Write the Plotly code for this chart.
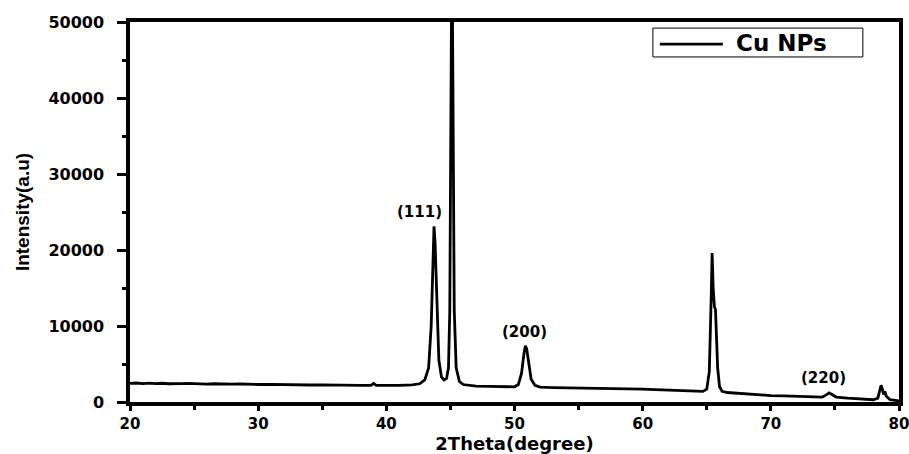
import plotly.graph_objects as go

two_theta = [20.0, 20.5, 21.0, 21.5, 22.0, 22.5, 23.0, 23.5, 24.0, 24.5, 25.0, 25.5, 26.0, 26.5,
             27.0, 27.5, 28.0, 28.5, 29.0, 29.5, 30.0, 31.0, 32.0, 33.0, 34.0, 35.0, 36.0, 37.0,
             38.0, 38.8, 39.0, 39.2, 40.0, 41.0, 42.0, 42.6, 43.0, 43.3, 43.5, 43.65, 43.72, 43.8,
             43.95, 44.1, 44.3, 44.5, 44.7, 44.85, 44.95, 45.05, 45.12, 45.2, 45.3, 45.45, 45.7,
             46.0, 46.5, 47.0, 48.0, 49.0, 50.0, 50.3, 50.55, 50.75, 50.85, 50.95, 51.1, 51.3, 51.6,
             52.0, 53.0, 54.0, 55.0, 56.0, 57.0, 58.0, 59.0, 60.0, 61.0, 62.0, 63.0, 64.0, 64.7,
             65.0, 65.2, 65.35, 65.42, 65.5, 65.6, 65.68, 65.75, 65.85, 66.0, 66.2, 66.6, 67.0,
             68.0, 69.0, 70.0, 71.0, 72.0, 73.0, 74.0, 74.3, 74.55, 74.8, 75.1, 76.0, 77.0, 78.0,
             78.35, 78.5, 78.6, 78.7, 78.8, 78.9, 79.0, 79.3, 80.0]
intensity = [2450, 2500, 2430, 2480, 2420, 2470, 2400, 2450, 2410, 2440, 2380, 2420, 2360, 2400,
             2350, 2390, 2340, 2370, 2320, 2350, 2300, 2320, 2270, 2290, 2240, 2260, 2210, 2230,
             2190, 2200, 2450, 2200, 2180, 2200, 2250, 2400, 2900, 4500, 10000, 20000, 23100, 21000,
             12000, 5500, 3300, 2900, 3100, 4500, 12000, 40000, 62000, 40000, 12000, 4500, 2700,
             2300, 2150, 2100, 2050, 2000, 2000, 2300, 3800, 6500, 7400, 7000, 5000, 3000, 2200,
             1950, 1900, 1880, 1850, 1820, 1790, 1750, 1720, 1700, 1640, 1580, 1500, 1420, 1400,
             1700, 4000, 14000, 19600, 15000, 12500, 12200, 9000, 4500, 2000, 1400, 1250, 1200,
             1050, 950, 850, 800, 720, 650, 650, 900, 1200, 950, 650, 500, 380, 300,
             500, 1500, 2200, 1700, 1000, 1400, 800, 300, 150]

peak_labels = ["(111)", "(200)", "(220)"]
peak_label_x = [42.6, 50.75, 74.1]
peak_label_y = [23500, 7700, 1700]

series_name = "Cu NPs"
x_ticks = [20, 30, 40, 50, 60, 70, 80]
y_ticks = [0, 10000, 20000, 30000, 40000, 50000]

BOLD = "DejaVu Sans"

fig = go.Figure()
fig.add_trace(go.Scatter(x=two_theta, y=intensity, mode="lines", name=series_name,
                         line=dict(color="black", width=2.8), showlegend=False))

for t, px, py in zip(peak_labels, peak_label_x, peak_label_y):
    fig.add_annotation(x=px, y=py, text=t, showarrow=False, yanchor="bottom",
                       font=dict(family=BOLD, size=15, color="black", weight="bold"))

# legend box (drawn manually to mimic the reference)
fig.add_shape(type="rect", xref="paper", yref="paper", x0=0.680, x1=0.953, y0=0.908, y1=0.984,
              line=dict(color="black", width=1), fillcolor="white")
fig.add_shape(type="line", xref="paper", yref="paper", x0=0.689, x1=0.771, y0=0.942, y1=0.942,
              line=dict(color="black", width=2.8))
fig.add_annotation(xref="paper", yref="paper", x=0.785, y=0.944, text=series_name, showarrow=False,
                   xanchor="left", yanchor="middle",
                   font=dict(family=BOLD, size=23, color="black", weight="bold"))

fig.update_layout(
    width=909, height=454,
    margin=dict(l=130, r=10, t=22, b=52, autoexpand=False),
    paper_bgcolor="white", plot_bgcolor="white",
    showlegend=False,
    xaxis=dict(range=[20, 80], tickvals=x_ticks, ticktext=[str(v) for v in x_ticks],
               automargin=False, ticklabeloverflow="allow",
               showgrid=False, zeroline=False, showline=True, linecolor="black", linewidth=3.5,
               mirror=True, ticks="outside", ticklen=5, tickwidth=3, tickcolor="black",
               minor=dict(dtick=5, ticks="outside", ticklen=4, tickwidth=3, tickcolor="black"),
               tickfont=dict(family=BOLD, size=15, color="black", weight="bold"),
               title=dict(text="2Theta(degree)", standoff=1,
                          font=dict(family=BOLD, size=18, color="black", weight="bold"))),
    yaxis=dict(range=[0, 50000], tickvals=y_ticks, ticktext=[str(v) for v in y_ticks],
               automargin=False, ticklabelstandoff=10, ticklabeloverflow="allow",
               showgrid=False, zeroline=False, showline=True, linecolor="black", linewidth=3.5,
               mirror=True, ticks="outside", ticklen=9, tickwidth=3, tickcolor="black",
               minor=dict(dtick=5000, ticks="outside", ticklen=4, tickwidth=3, tickcolor="black"),
               tickfont=dict(family=BOLD, size=16, color="black", weight="bold"),
               title=dict(text="Intensity(a.u)", standoff=15,
                          font=dict(family="Liberation Sans Narrow, Liberation Sans", size=19,
                                    color="black", weight="bold"))),
)

fig.write_html("out.html", config={"displayModeBar": False},
               post_script="document.body.style.margin='0px';document.body.style.overflow='hidden';")
